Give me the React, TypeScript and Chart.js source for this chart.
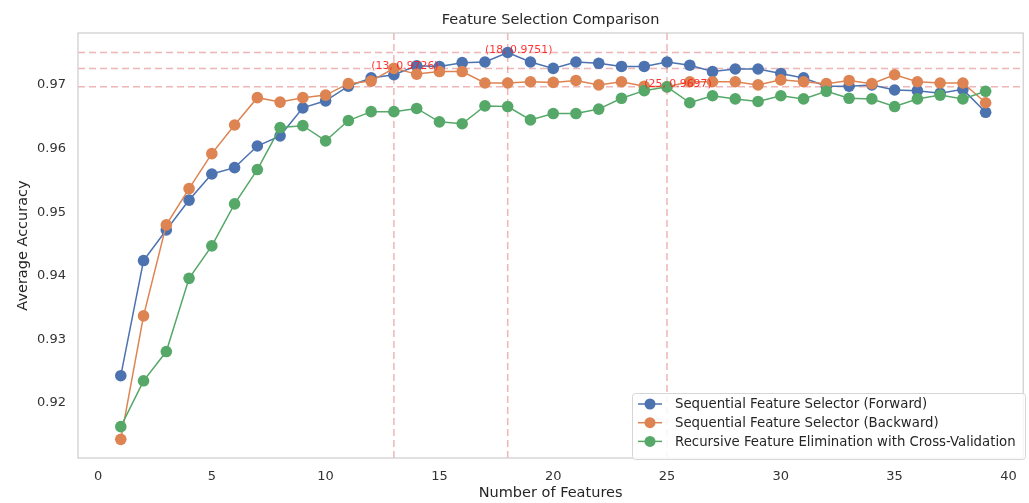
import React, { useEffect, useRef } from "react";
import { Chart, registerables } from "chart.js";

Chart.register(...registerables);

const features = Array.from({ length: 39 }, (_, i) => i + 1);

const forwardAcc = [
  0.9243, 0.9424, 0.9472, 0.9519, 0.956, 0.957, 0.9604, 0.962, 0.9664, 0.9675,
  0.9698, 0.9711, 0.9716, 0.973, 0.9729, 0.9735, 0.9736, 0.9751, 0.9736, 0.9726,
  0.9736, 0.9734, 0.9729, 0.9729, 0.9736, 0.9731, 0.9721, 0.9725, 0.9725, 0.9718,
  0.9711, 0.9698, 0.9698, 0.97, 0.9692, 0.9691, 0.9687, 0.9693, 0.9657,
];

const backwardAcc = [
  0.9143, 0.9337, 0.948, 0.9537, 0.9592, 0.9637, 0.968, 0.9673, 0.968, 0.9684,
  0.9702, 0.9706, 0.9726, 0.9717, 0.9721, 0.9721, 0.9703, 0.9703, 0.9705, 0.9704,
  0.9707, 0.97, 0.9705, 0.9698, 0.9697, 0.9705, 0.9705, 0.9705, 0.97, 0.9708,
  0.9705, 0.9702, 0.9707, 0.9702, 0.9716, 0.9705, 0.9703, 0.9703, 0.9672,
];

const rfecvAcc = [
  0.9163, 0.9235, 0.9281, 0.9396, 0.9447, 0.9513, 0.9567, 0.9633, 0.9636, 0.9612,
  0.9644, 0.9658, 0.9658, 0.9663, 0.9642, 0.9639, 0.9667, 0.9666, 0.9645, 0.9655,
  0.9655, 0.9662, 0.9679, 0.9691, 0.9697, 0.9672, 0.9683, 0.9678, 0.9674, 0.9683,
  0.9678, 0.969, 0.9679, 0.9678, 0.9666, 0.9678, 0.9684, 0.9678, 0.969,
];

const seriesNames = [
  "Sequential Feature Selector (Forward)",
  "Sequential Feature Selector (Backward)",
  "Recursive Feature Elimination with Cross-Validation",
];
const seriesColors = ["#4c72b0", "#dd8452", "#55a868"];

// best points (features, accuracy)
const bestX = [18, 13, 25];
const bestY = [0.9751, 0.9726, 0.9697];
const bestLabels = ["(18, 0.9751)", "(13, 0.9726)", "(25, 0.9697)"];

const xTicks = [0, 5, 10, 15, 20, 25, 30, 35, 40];
const yTicks = [0.92, 0.93, 0.94, 0.95, 0.96, 0.97];

const FONT = "'DejaVu Sans', sans-serif";

export default function App() {
  const ref = useRef<HTMLCanvasElement>(null);

  useEffect(() => {
    document.body.style.margin = "0";
    const canvas = ref.current!;
    const allSeries = [forwardAcc, backwardAcc, rfecvAcc];

    const overlay = {
      id: "overlay",
      beforeDatasetsDraw(chart: any) {
        const { ctx, chartArea: a, scales } = chart;
        const xs = scales.x;
        const ys = scales.y;
        ctx.save();
        ctx.strokeStyle = "rgba(222, 110, 110, 0.5)";
        ctx.lineWidth = 1.5;
        ctx.setLineDash([7, 4]);
        bestX.forEach((v) => {
          const px = xs.getPixelForValue(v);
          ctx.beginPath();
          ctx.moveTo(px, a.top);
          ctx.lineTo(px, a.bottom);
          ctx.stroke();
        });
        bestY.forEach((v) => {
          const py = ys.getPixelForValue(v);
          ctx.beginPath();
          ctx.moveTo(a.left, py);
          ctx.lineTo(a.right, py);
          ctx.stroke();
        });
        ctx.restore();
      },
      afterDatasetsDraw(chart: any) {
        const { ctx, chartArea: a, scales } = chart;
        const xs = scales.x;
        const ys = scales.y;
        ctx.save();
        // annotations
        ctx.fillStyle = "rgba(255, 30, 30, 0.9)";
        ctx.font = `10.9px ${FONT}`;
        ctx.textAlign = "center";
        ctx.textBaseline = "alphabetic";
        bestX.forEach((v, i) => {
          ctx.fillText(bestLabels[i], xs.getPixelForValue(v) + 11, ys.getPixelForValue(bestY[i]) + 0.5);
        });
        // frame
        ctx.strokeStyle = "#cccccc";
        ctx.lineWidth = 1.2;
        ctx.setLineDash([]);
        ctx.strokeRect(a.left, a.top, a.right - a.left, a.bottom - a.top);
        // title
        ctx.fillStyle = "#262626";
        ctx.font = `14.5px ${FONT}`;
        ctx.textAlign = "center";
        ctx.textBaseline = "middle";
        ctx.fillText("Feature Selection Comparison", (a.left + a.right) / 2, 20);
        // legend
        const lx = 632, ly = 393, lw = 393, lh = 66;
        ctx.fillStyle = "rgba(255,255,255,0.85)";
        ctx.strokeStyle = "#d6d6d6";
        ctx.lineWidth = 1;
        ctx.beginPath();
        ctx.roundRect(lx + 0.5, ly + 0.5, lw, lh, 3);
        ctx.fill();
        ctx.stroke();
        ctx.font = `13.3px ${FONT}`;
        ctx.textAlign = "left";
        ctx.textBaseline = "middle";
        seriesNames.forEach((name, i) => {
          const y = ly + 11 + i * 18.7;
          ctx.strokeStyle = seriesColors[i];
          ctx.lineWidth = 1.5;
          ctx.beginPath();
          ctx.moveTo(lx + 6, y);
          ctx.lineTo(lx + 30, y);
          ctx.stroke();
          ctx.fillStyle = seriesColors[i];
          ctx.beginPath();
          ctx.arc(lx + 18, y, 5.5, 0, Math.PI * 2);
          ctx.fill();
          ctx.fillStyle = "#262626";
          ctx.fillText(name, lx + 43, y + 1);
        });
        ctx.restore();
      },
    };

    const chart = new Chart(canvas, {
      type: "line",
      data: {
        datasets: allSeries.map((s, i) => ({
          label: seriesNames[i],
          data: features.map((f, j) => ({ x: f, y: s[j] })),
          borderColor: seriesColors[i],
          backgroundColor: seriesColors[i],
          pointBackgroundColor: seriesColors[i],
          pointBorderColor: seriesColors[i],
          pointRadius: 5.8,
          pointBorderWidth: 0,
          borderWidth: 1.5,
          tension: 0,
          order: 3 - i,
        })),
      },
      options: {
        animation: false,
        responsive: false,
        maintainAspectRatio: false,
        layout: { padding: { top: 33, right: 3, left: 0, bottom: 0 } },
        plugins: {
          legend: { display: false },
          title: { display: false },
          tooltip: { enabled: false },
        },
        scales: {
          x: {
            type: "linear",
            min: -0.88,
            max: 40.65,
            grid: { display: false, drawTicks: false },
            border: { display: false },
            afterBuildTicks: (s: any) => {
              s.ticks = xTicks.map((v) => ({ value: v }));
            },
            afterFit: (s: any) => {
              s.height = 45;
            },
            ticks: {
              padding: 11,
              color: "#333333",
              font: { family: FONT, size: 13 },
              maxRotation: 0,
              autoSkip: false,
              callback: (v: any) => String(v),
            },
            title: {
              display: true,
              text: "Number of Features",
              color: "#262626",
              font: { family: FONT, size: 14.5 },
              padding: { top: 4, bottom: 1.5 },
            },
          },
          y: {
            type: "linear",
            min: 0.91137,
            max: 0.97816,
            grid: { display: false, drawTicks: false },
            border: { display: false },
            afterBuildTicks: (s: any) => {
              s.ticks = yTicks.map((v) => ({ value: v }));
            },
            afterFit: (s: any) => {
              s.width = 78;
            },
            ticks: {
              padding: 12,
              color: "#333333",
              font: { family: FONT, size: 13 },
              autoSkip: false,
              callback: (v: any) => Number(v).toFixed(2),
            },
            title: {
              display: true,
              text: "Average Accuracy",
              color: "#262626",
              font: { family: FONT, size: 14.5 },
              padding: { top: 15, bottom: 0 },
            },
          },
        },
      },
      plugins: [overlay],
    });

    return () => chart.destroy();
  }, []);

  return (
    <div style={{ width: 1029, height: 503 }}>
      <canvas ref={ref} width={1029} height={503} style={{ display: "block" }} />
    </div>
  );
}
